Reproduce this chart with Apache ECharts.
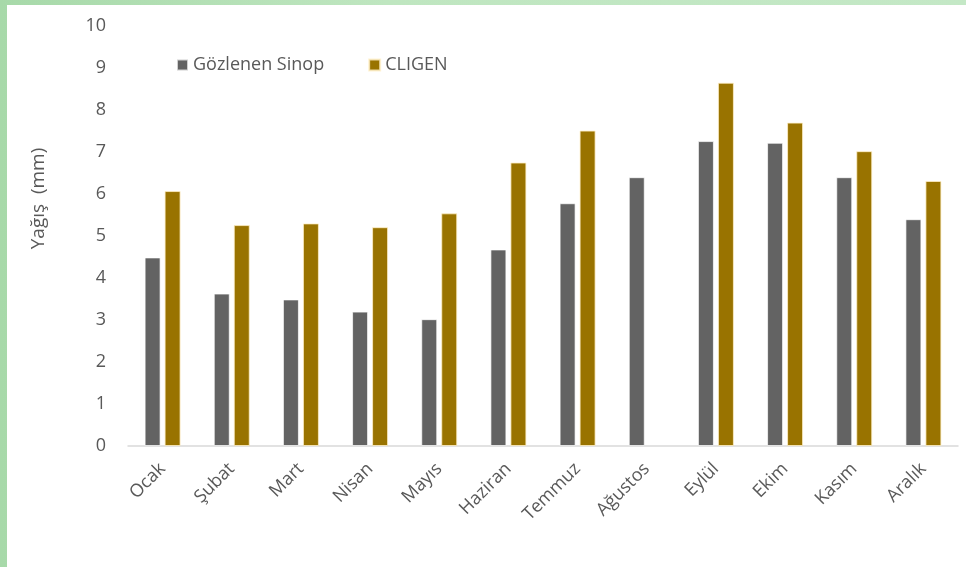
<!DOCTYPE html>
<html>
<head>
<meta charset="utf-8">
<script src="https://cdn.jsdelivr.net/npm/echarts@6/dist/echarts.min.js"></script>
<style>
    html, body { margin: 0; padding: 0; }
    body {
        width: 966px; height: 567px; overflow: hidden; position: relative;
        background: linear-gradient(90deg, #a7d9a9 0%, #bfe6c0 40%, #c4e8c6 100%);
    }
    #chart {
        position: absolute; left: 7px; top: 5px;
        width: 959px; height: 562px; background: #fff;
    }
</style>
</head>
<body>
<div id="chart"></div>
<script>
const months = ['Ocak', 'Şubat', 'Mart', 'Nisan', 'Mayıs', 'Haziran', 'Temmuz', 'Ağustos', 'Eylül', 'Ekim', 'Kasım', 'Aralık']
const observed = [4.49, 3.63, 3.49, 3.20, 3.02, 4.68, 5.78, 6.40, 7.26, 7.22, 6.40, 5.40]
const cligen = [6.07, 5.26, 5.30, 5.21, 5.54, 6.75, 7.51, null, 8.65, 7.70, 7.02, 6.31]
const yTicks = [0, 10, 1]   // min, max, interval

const font = '"Open Sans", sans-serif'
const textGray = '#595959'

const chart = echarts.init(document.getElementById('chart'))
chart.setOption({
    animation: false,
    textStyle: { fontFamily: font },
    legend: {
        left: 164, top: 46,
        itemWidth: 11, itemHeight: 11, itemGap: 44,
        icon: 'rect',
        textStyle: { color: textGray, fontSize: 18, fontFamily: font }
    },
    grid: { left: 121, right: 8, top: 21, bottom: 121, containLabel: false },
    xAxis: {
        type: 'category',
        data: months,
        axisLine: { lineStyle: { color: '#d9d9d9', width: 1.5 } },
        axisTick: { show: false },
        axisLabel: { rotate: 45, color: textGray, fontSize: 18, margin: 20, interval: 0 }
    },
    yAxis: {
        type: 'value',
        min: yTicks[0], max: yTicks[1], interval: yTicks[2],
        name: 'Yağış  (mm)',
        nameLocation: 'middle',
        nameGap: 80,
        nameTextStyle: { color: textGray, fontSize: 19, padding: [0, 0, 0, 75] },
        axisLine: { show: false },
        axisTick: { show: false },
        splitLine: { show: false },
        axisLabel: { color: textGray, fontSize: 18, margin: 22 }
    },
    series: [
        {
            name: 'Gözlenen Sinop', type: 'bar', data: observed,
            barWidth: 16, barGap: '25%',
            itemStyle: { color: '#636363', borderColor: 'rgba(255,255,255,0.7)', borderWidth: 1 }
        },
        {
            name: 'CLIGEN', type: 'bar', data: cligen,
            barWidth: 16,
            itemStyle: { color: '#997300', borderColor: 'rgba(255,240,200,0.8)', borderWidth: 1 }
        }
    ]
})
</script>
</body>
</html>
